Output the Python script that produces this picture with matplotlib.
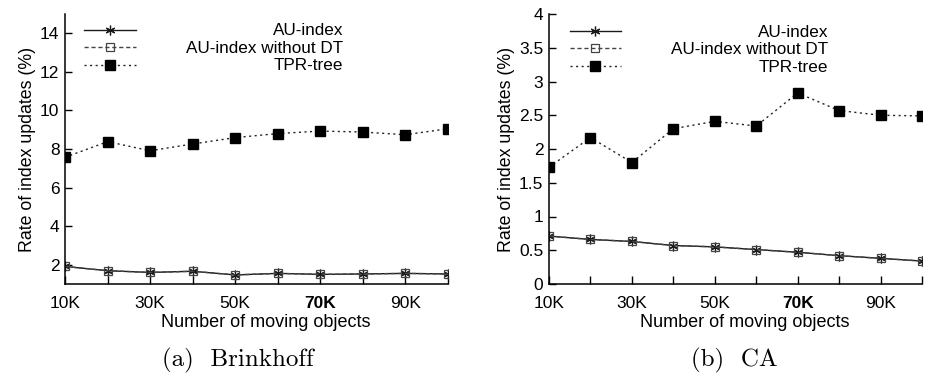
import numpy as np
import matplotlib
matplotlib.use("Agg")
from matplotlib import pyplot as plt
from matplotlib.ticker import FormatStrFormatter

plt.rcParams['font.family'] = ['Liberation Sans', 'DejaVu Sans']

# number of moving objects (K)
objects = [10, 20, 30, 40, 50, 60, 70, 80, 90, 100]
tick_labels = ["10K", "", "30K", "", "50K", "", "70K", "", "90K", ""]
series_names = ["AU-index", "AU-index without DT", "TPR-tree"]

# (a) Brinkhoff
brink_au      = [1.91, 1.69, 1.60, 1.66, 1.47, 1.55, 1.50, 1.52, 1.55, 1.52]
brink_au_nodt = [1.91, 1.69, 1.60, 1.66, 1.47, 1.55, 1.50, 1.52, 1.55, 1.52]
brink_tpr     = [7.57, 8.38, 7.91, 8.26, 8.59, 8.80, 8.93, 8.88, 8.74, 9.05]

# (b) CA
ca_au      = [0.71, 0.66, 0.63, 0.57, 0.55, 0.51, 0.47, 0.42, 0.38, 0.34]
ca_au_nodt = [0.71, 0.66, 0.63, 0.57, 0.55, 0.51, 0.47, 0.42, 0.38, 0.34]
ca_tpr     = [1.73, 2.17, 1.80, 2.30, 2.41, 2.34, 2.83, 2.57, 2.50, 2.49]

fig = plt.figure(figsize=(9.29, 3.75), dpi=100)
ax1 = fig.add_axes([65/929, 91/375, 383/929, 270/375])
ax2 = fig.add_axes([549/929, 91/375, 373/929, 270/375])


def draw(ax, au, nodt, tpr, ylim, yticks, leg_anchor, label_right):
    ax.plot(objects, au, color="#1a1a1a", lw=1.0, ls="-",
            marker=(6, 2, 0), ms=7, mew=0.9, label=series_names[0])
    ax.plot(objects, nodt, color="#444444", lw=1.0, ls=(0, (3, 2)),
            marker="s", ms=6, mfc="none", mew=0.9, label=series_names[1])
    ax.plot(objects, tpr, color="#222222", lw=1.0, ls=(0, (1.5, 2.5)),
            marker="s", ms=7, mfc="black", mec="black", label=series_names[2])

    ax.set_xlim(10, 100)
    ax.set_ylim(*ylim)
    ax.set_xticks(objects)
    ax.set_xticklabels(tick_labels, fontsize=12.5)
    for t in ax.get_xticklabels():
        if t.get_text() == "70K":
            t.set_fontweight("bold")
    ax.set_yticks(yticks)
    ax.yaxis.set_major_formatter(FormatStrFormatter("%g"))
    ax.tick_params(axis="y", direction="in", length=5, width=1, labelsize=12.5, pad=4)
    ax.tick_params(axis="x", direction="in", length=6, width=1, pad=9)
    for s in ["top", "right"]:
        ax.spines[s].set_visible(False)
    for s in ["left", "bottom"]:
        ax.spines[s].set_linewidth(1.1)

    ax.set_xlabel("Number of moving objects", fontsize=13, labelpad=2)
    ax.xaxis.label.set_x(0.525)
    ax.set_ylabel("Rate of index updates (%)", fontsize=12.8, labelpad=3)

    leg = ax.legend(loc="upper left", bbox_to_anchor=leg_anchor, frameon=False,
                    fontsize=12, handlelength=3.1, handletextpad=1.0,
                    labelspacing=0.15, borderaxespad=0, borderpad=0)
    # gnuplot style: labels right-aligned at a fixed x
    fig.canvas.draw()
    inv = fig.transFigure.inverted()
    for t in leg.get_texts():
        bb = t.get_window_extent()
        yc = inv.transform((0, (bb.y0 + bb.y1) / 2))[1]
        fig.text(label_right / 929, yc, t.get_text(), fontsize=12.3,
                 ha="right", va="center")
        t.set_visible(False)
    return leg


draw(ax1, brink_au, brink_au_nodt, brink_tpr, (1, 15), np.arange(2, 15, 2),
     (0.05, 0.965), 343)
draw(ax2, ca_au, ca_au_nodt, ca_tpr, (0, 4), np.arange(0, 4.01, 0.5),
     (0.055, 0.96), 828)

fig.text(238/929, 1 - 360/375, "(a)  Brinkhoff", family="cmr10", fontsize=18,
         ha="center", va="center")
fig.text(734/929, 1 - 360/375, "(b)  CA", family="cmr10", fontsize=18,
         ha="center", va="center")

fig.savefig("out.png", dpi=100)
